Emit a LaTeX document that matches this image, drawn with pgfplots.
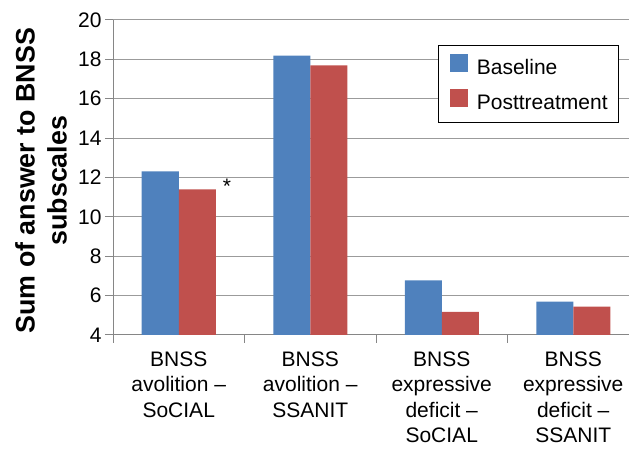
\documentclass[border=0pt]{standalone}
\usepackage{fontspec}
\setmainfont{Liberation Sans}
\usepackage{pgfplots}
\pgfplotsset{compat=1.18}
\definecolor{barblue}{RGB}{79,129,189}
\definecolor{barred}{RGB}{192,80,77}
\definecolor{axgray}{RGB}{134,134,134}
\definecolor{gridgray}{RGB}{155,155,155}
\begin{document}
\begin{tikzpicture}
\useasboundingbox (0,0) rectangle (629pt,449pt);
\begin{axis}[
  at={(113pt,114pt)}, anchor=south west,
  scale only axis, width=526pt, height=315pt,
  xmin=-0.5, xmax=3.5, ymin=4, ymax=20,
  enlargelimits=false,
  ybar=0pt, bar width=37pt,
  axis x line*=bottom, axis y line*=left,
  axis line style={draw=axgray, line width=1pt},
  ytick={4,6,...,20},
  ymajorgrids, grid style={draw=gridgray, line width=1pt},
  tick align=outside, major tick length=8pt,
  tick style={draw=axgray, line width=1pt},
  xtick={-0.5,0.5,1.5,2.5,3.5}, xticklabels={},
  extra x ticks={0,1,2,3},
  extra x tick labels={{BNSS\\avolition –\\SoCIAL},{BNSS\\avolition –\\SSANIT},{BNSS\\expressive\\deficit –\\SoCIAL},{BNSS\\expressive\\deficit –\\SSANIT}},
  extra x tick style={major tick length=0pt, tick label style={align=center, yshift=-13pt}},
  tick label style={font=\fontsize{21}{25.5}\selectfont, text=black},
  /pgf/number format/assume math mode=true,
  ylabel={Sum of answer to BNSS\\subscales},
  ylabel style={font=\bfseries\fontsize{26.8}{32}\selectfont, align=center, at={(axis description cs:-0.137,0.49)}, anchor=center},
  legend style={at={(axis description cs:0.962,0.9206)}, anchor=north east, draw=black, line width=0.8pt, font=\fontsize{21}{25.5}\selectfont, inner xsep=11pt, inner ysep=9pt, row sep=10pt, nodes={inner sep=0pt, text height=15pt, text depth=4pt}, /tikz/every odd column/.append style={column sep=9pt}},
  legend cell align=left,
  legend image code/.code={\fill[#1] (0pt,-3pt) rectangle (18pt,15pt);},
]
\addplot[fill=barblue, draw=none] coordinates {(0,12.31) (1,18.19) (2,6.78) (3,5.69)};
\addplot[fill=barred, draw=none] coordinates {(0,11.40) (1,17.70) (2,5.17) (3,5.44)};
\legend{Baseline, Posttreatment}
\node[font=\fontsize{21}{25.5}\selectfont, anchor=base] at (axis cs:0.367,11.2) {*};
\end{axis}
\end{tikzpicture}
\end{document}
